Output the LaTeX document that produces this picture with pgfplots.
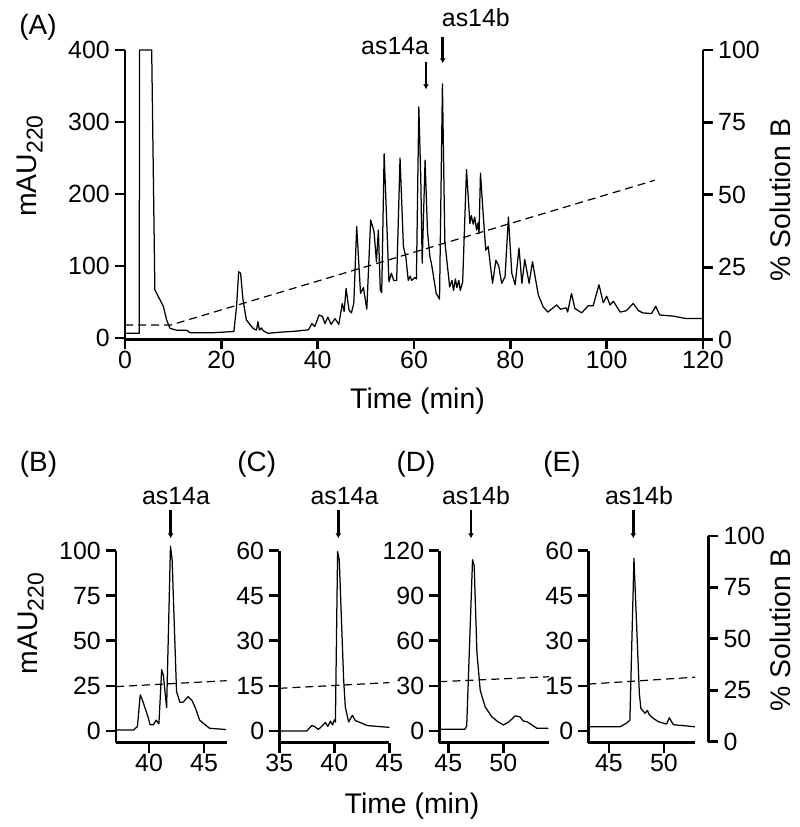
\documentclass[border=0pt]{standalone}
\usepackage{pgfplots}
\pgfplotsset{compat=1.18}
\usepackage{fontspec}
\setmainfont{Liberation Sans}
\usetikzlibrary{arrows.meta}
\newcommand\fs[1]{\fontsize{#1}{#1}\selectfont}
\pgfplotsset{
 base/.style={scale only axis, anchor=south west, clip=false,
  axis line style={line width=2.8bp,-,black},
  every inner x axis line/.append style={-},
  every outer x axis line/.append style={-},
  every inner y axis line/.append style={-},
  every outer y axis line/.append style={-},
  tick style={line width=2.8bp,black},
  major tick length=10bp, tick align=outside,
  ticklabel style={font=\fs{25}},
  xticklabel style={inner sep=1.5bp},
  yticklabel style={inner sep=5bp},
  /pgf/number format/assume math mode=true,
  /pgf/number format/1000 sep={},
 },
 leftax/.style={axis lines=left, base},
 rightax/.style={axis x line=none, axis y line=right, base, ymin=0, ymax=100, ytick={0,25,50,75,100}},
 trace/.style={black, line width=1.25bp, line join=round},
 grad/.style={black, line width=1.2bp, dash pattern=on 8bp off 5bp},
}
\begin{document}
\begin{tikzpicture}[x=1bp,y=1bp]
\useasboundingbox (0,0) rectangle (800,827);
% ---------------- panel A ----------------
\begin{axis}[leftax, at={(125bp,487.5bp)}, width=578bp, height=289.5bp,
  xmin=0, xmax=120, ymin=-2, ymax=400, xtick={0,20,...,120}, ytick={0,100,...,400}]
\addplot[trace] coordinates {
(0,6.5)(2.97,6.5)(3.0,400)(5.54,400)(6.2,67)(7.27,53)(7.96,44)(8.65,25)(9.34,13.4)
(10.7,11)(12.8,11)(13.5,7.4)(18.4,7.4)(21.8,8.8)(22.6,9)(23.15,43)(23.6,92)(24.0,90)
(24.5,53)(25.2,25)(26.6,13.4)(27.3,11)(27.6,22.7)(27.9,11)(28.3,14)(28.6,11)(29.0,9)(29.7,6.5)
(31.9,8)(35.4,9.5)(38.1,11.5)(38.8,20)(39.4,16)(40.3,32)(41.0,30)(41.5,20)(42.1,29)
(42.8,19)(43.6,27)(44.4,19)(45.1,48)(45.5,37)(45.9,69)(46.5,39)(47.0,35)(47.5,48)
(48.1,155)(48.9,62)(49.5,70)(50.2,40)(51.0,164)(51.7,148)(52.2,106)(52.6,150)(53.0,67)
(53.3,63)(53.8,256)(54.3,168)(54.8,78)(55.3,90)(55.8,80)(56.4,80)(57.1,250)(57.8,127)
(58.3,113)(58.8,80)(59.2,86)(59.5,80)(60.2,84)(60.5,82)(61.0,321)(61.4,224)(61.7,104)(62.3,247)
(62.8,148)(63.3,113)(63.6,104)(63.9,92)(64.6,62)(65.3,54)(65.9,353)(66.4,134)(67.1,90)
(67.4,71)(67.9,80)(68.2,66)(68.6,82)(68.9,70)(69.3,80)(69.6,66)(70.1,78)(70.9,234)(71.6,159)
(71.9,170)(72.3,158)(72.6,168)(73.0,150)(73.3,160)(73.5,145)(73.8,229)(74.4,168)(74.9,122)
(75.4,127)(76.3,76)(77.0,108)(77.6,100)(78.2,76)(78.9,85)(79.6,168)(80.3,90)(81.0,74)
(81.8,125)(82.4,76)(83.0,109)(83.9,76)(84.6,106)(85.8,60)(86.8,43.5)(87.8,36)(89.6,46)
(90.4,40)(91.6,42)(91.9,36)(92.7,62)(93.4,41)(94.8,35)(96.2,45)(97.2,45)(98.4,74)
(99.3,49)(100.0,58)(100.7,46)(101.4,51)(102.8,36)(104.1,38)(105.5,48)(106.6,38)(107.5,35)
(109.3,34)(110.2,44)(111.0,32)(113.8,30.5)(116.5,27)(120,27)
};
\end{axis}
\begin{axis}[rightax, at={(125bp,487.5bp)}, width=578bp, height=289.5bp, xmin=0, xmax=120]
\addplot[grad] coordinates {(0,5)(9.5,5)(110,55)};
\end{axis}
% ---------------- panel B ----------------
\begin{axis}[leftax, at={(116bp,84.3bp)}, width=110.7bp, height=192bp,
  xmin=37, xmax=47.06, ymin=-6.5, ymax=100, xtick={40,45}, ytick={0,25,50,75,100}]
\addplot[trace] coordinates {
(37,0.5)(38.6,0.5)(38.95,2.5)(39.2,20)(39.35,18)(39.9,8)(40.1,3.5)(40.4,3.5)(40.65,6)
(40.9,4)(41.15,34)(41.3,31)(41.6,13)(41.95,102.5)(42.1,95)(42.5,22)(42.8,16)(43.1,16)
(43.55,19)(43.9,17)(44.2,13)(44.6,6)(45.0,4)(45.5,1.5)(47,0.8)
};
\addplot[grad] coordinates {(37,24.6)(47.06,27.9)};
\end{axis}
% ---------------- panel C ----------------
\begin{axis}[leftax, at={(279.3bp,84.3bp)}, width=110bp, height=192bp,
  xmin=35, xmax=45, ymin=-3.9, ymax=60, xtick={35,40,45}, ytick={0,15,...,60}]
\addplot[trace] coordinates {
(35,0)(37.5,0)(37.95,1.8)(38.2,1.5)(38.55,0.5)(39.2,2.8)(39.4,1.5)(39.65,3.3)(39.85,2)
(40.0,3.7)(40.1,3)(40.3,59.7)(40.45,57)(40.85,17)(41.0,8)(41.3,3)(41.65,5.2)(41.9,3.5)
(43,1.8)(45,1.2)
};
\addplot[grad] coordinates {(35,14.2)(45,16.1)};
\end{axis}
% ---------------- panel D ----------------
\begin{axis}[leftax, at={(439.3bp,84.3bp)}, width=109.7bp, height=192bp,
  xmin=44.18, xmax=54.15, ymin=-7.8, ymax=120, xtick={45,50}, ytick={0,30,...,120}]
\addplot[trace] coordinates {
(44.18,1.1)(46.5,1.1)(46.67,3.3)(47.2,114)(47.35,110)(47.6,52)(47.9,27)(48.35,16)
(48.95,9.5)(49.5,6.2)(50,4)(50.5,6)(51.06,10)(51.5,9.5)(51.8,6.7)(52.2,6)(52.6,4)
(53.04,1.8)(54.1,1.8)
};
\addplot[grad] coordinates {(44.18,32.8)(54.15,36.1)};
\end{axis}
% ---------------- panel E ----------------
\begin{axis}[leftax, at={(588.3bp,84.3bp)}, width=106.7bp, height=192bp,
  xmin=43.12, xmax=52.82, ymin=-3.9, ymax=60, xtick={45,50}, ytick={0,15,...,60}]
\addplot[trace] coordinates {
(43.12,1.4)(46,1.4)(46.6,2.6)(46.9,3.6)(47.27,57.5)(47.76,12.5)(47.9,7.5)(48.27,5.9)
(48.5,6.8)(48.65,5.5)(49.03,4.2)(49.48,3.1)(50.24,2.3)(50.48,4.4)(50.85,2.1)(52.8,1.4)
};
\addplot[grad] coordinates {(43.12,15.6)(52.82,17.9)};
\end{axis}
\begin{axis}[rightax, at={(707.3bp,85.3bp)}, width=1bp, height=205.7bp, xmin=0, xmax=1]
\end{axis}
% ---------------- annotations ----------------
\tikzset{arr/.style={line width=2.8bp, -{Latex[length=5bp,width=6bp]}}}
\draw[arr] (426,765.3) -- (426,737.7);
\draw[arr] (442.7,790.3) -- (442.7,763.7);
\node[anchor=base east, inner sep=0, font=\fs{25}] at (429.3,772) {as14a};
\node[anchor=base west, inner sep=0, font=\fs{25}] at (441.7,800.3) {as14b};
\draw[arr] (170.7,317) -- (170.7,288.7);
\draw[arr] (338.3,317) -- (338.3,288.7);
\draw[arr] (471,317) -- (471,288.7);
\draw[arr] (633.3,317) -- (633.3,288.7);
\node[anchor=base, inner sep=0, font=\fs{25}] at (176,322.7) {as14a};
\node[anchor=base, inner sep=0, font=\fs{25}] at (344.5,322.7) {as14a};
\node[anchor=base, inner sep=0, font=\fs{25}] at (476,322.7) {as14b};
\node[anchor=base, inner sep=0, font=\fs{25}] at (639,322.7) {as14b};
% panel letters
\node[anchor=base, inner sep=0, font=\fs{28}] at (38,792) {(A)};
\node[anchor=base, inner sep=0, font=\fs{28}] at (38.5,355) {(B)};
\node[anchor=base, inner sep=0, font=\fs{28}] at (256.7,355) {(C)};
\node[anchor=base, inner sep=0, font=\fs{28}] at (416,355) {(D)};
\node[anchor=base, inner sep=0, font=\fs{28}] at (562,355) {(E)};
% axis titles
\node[rotate=90, anchor=base, inner sep=0, font=\fs{28.5}] at (36.7,661) {mAU\raisebox{-6bp}{\fs{23}220}};
\node[rotate=90, anchor=base, inner sep=0, font=\fs{28.5}] at (37.5,203.5) {mAU\raisebox{-6bp}{\fs{23}220}};
\node[anchor=base, inner sep=0, font=\fs{28.5}] at (417.5,418.7) {Time (min)};
\node[anchor=base, inner sep=0, font=\fs{28.5}] at (412,13.7) {Time (min)};
\node[rotate=90, anchor=base, inner sep=0, font=\fs{28.5}] at (790,627) {\% Solution B};
\node[rotate=90, anchor=base, inner sep=0, font=\fs{28.5}] at (790,197) {\% Solution B};
\end{tikzpicture}
\end{document}
